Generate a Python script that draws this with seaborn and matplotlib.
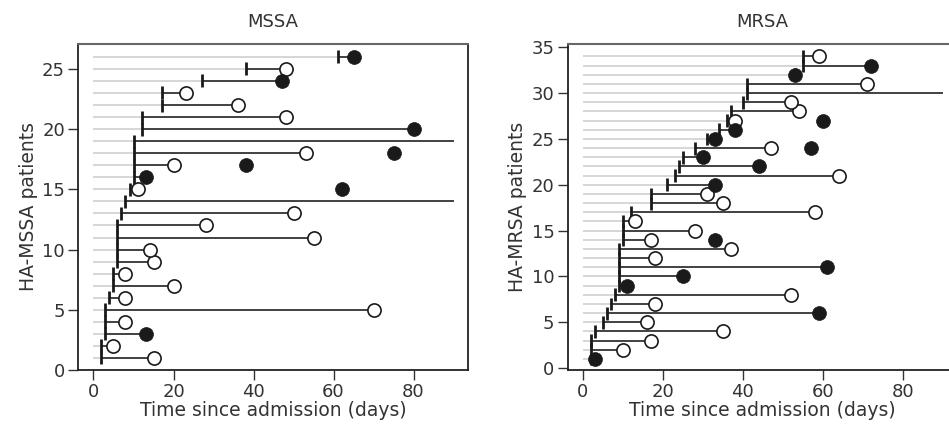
import numpy as np
import pandas as pd
import matplotlib
matplotlib.use("Agg")
import matplotlib.pyplot as plt
import seaborn as sns

sns.set_style("ticks")
plt.rcParams["font.family"] = ["DejaVu Sans"]

# MSSA patients (rows 1..26): sampling day, outcome day, outcome marker
mssa_start = [2, 2, 3, 3, 3, 4, 5, 5, 6, 6, 6, 6, 7, 8, 9, 10, 10, 10, 10, 12, 12, 17, 17, 27, 38, 61]
mssa_end = [15, 5, 13, 8, 70, 8, 20, 8, 15, 14, 55, 28, 50, 90, 11, 13, 20, 53, 90, 80, 48, 36, 23, 47, 48, 65]
mssa_kind = ["open", "open", "filled", "open", "open", "open", "open", "open", "open", "open",
             "open", "open", "open", "none", "open", "filled", "open", "open", "none", "filled",
             "open", "open", "open", "filled", "open", "filled"]
mssa_extra_row = [15, 17, 18]
mssa_extra_day = [62, 38, 75]

# MRSA patients (rows 1..34)
mrsa_start = [2, 2, 2, 3, 5, 6, 7, 8, 9, 9, 9, 9, 9, 10, 10, 10, 12, 17, 17, 21, 23, 24, 25, 28,
              31, 34, 36, 37, 40, 41, 41, 53, 55, 55]
mrsa_end = [3, 10, 17, 35, 16, 59, 18, 52, 11, 25, 61, 18, 37, 17, 28, 13, 58, 35, 31, 33, 64, 44,
            30, 47, 33, 38, 38, 54, 52, 90, 71, 53, 72, 59]
mrsa_kind = ["filled", "open", "open", "open", "open", "filled", "open", "open", "filled", "filled",
             "filled", "open", "open", "open", "open", "open", "open", "open", "open", "filled",
             "open", "filled", "filled", "open", "filled", "filled", "open", "open", "open", "none",
             "open", "filled", "filled", "open"]
mrsa_extra_row = [14, 24, 27]
mrsa_extra_day = [33, 57, 60]

x_ticks = [0, 20, 40, 60, 80]


def draw_panel(ax, start, end, kind, extra_row, extra_day, title, ylabel, ylim, yticks, tick_half):
    """
    Draws one patient timeline panel
    """
    df = pd.DataFrame({"row": np.arange(1, len(start) + 1), "start": start, "end": end, "kind": kind})
    # grey line from admission to sampling
    ax.hlines(df.row, 0, df.start, color="#d6d6d6", lw=1.4, zorder=1)
    # black line from sampling to outcome
    ax.hlines(df.row, df.start, df.end, color="#333333", lw=1.3, zorder=2)
    # vertical tick at sampling day
    ax.vlines(df.start, df.row - tick_half, df.row + tick_half, color="#1a1a1a", lw=2, zorder=3)
    # outcome markers
    sns.scatterplot(data=df[df.kind == "open"], x="end", y="row", ax=ax, s=90,
                    color="white", edgecolor="#1a1a1a", linewidth=1.2, zorder=4)
    filled = pd.concat([df[df.kind == "filled"][["end", "row"]],
                        pd.DataFrame({"end": extra_day, "row": extra_row})])
    sns.scatterplot(data=filled, x="end", y="row", ax=ax, s=100,
                    color="#1a1a1a", edgecolor="#1a1a1a", linewidth=0.5, zorder=4)
    ax.set_xlim(-3.8, 93.6)
    ax.set_ylim(*ylim)
    ax.set_xticks(x_ticks)
    ax.set_yticks(yticks)
    ax.set_title(title, fontsize=13, pad=12, color="#333333")
    ax.set_xlabel("Time since admission (days)", fontsize=13.5, labelpad=0, color="#333333")
    ax.set_ylabel(ylabel, fontsize=13.5, labelpad=3, color="#333333")
    ax.tick_params(labelsize=13, length=7, width=1, pad=2.5, color="#333333", labelcolor="#333333")
    for side in ["left", "bottom", "right"]:
        ax.spines[side].set_color("#222222")
        ax.spines[side].set_linewidth(1.3)
    ax.spines["top"].set_color("#666666")
    ax.spines["top"].set_linewidth(1.5)


fig = plt.figure(figsize=(9.49, 4.34), dpi=100)
ax1 = fig.add_axes([0.0825, 0.1475, 0.4106, 0.752])
ax2 = fig.add_axes([0.5982, 0.1475, 0.4106, 0.752])

draw_panel(ax1, mssa_start, mssa_end, mssa_kind, mssa_extra_row, mssa_extra_day,
           "MSSA", "HA-MSSA patients", (0, 27.1), [0, 5, 10, 15, 20, 25], 0.54)
draw_panel(ax2, mrsa_start, mrsa_end, mrsa_kind, mrsa_extra_row, mrsa_extra_day,
           "MRSA", "HA-MRSA patients", (-0.2, 35.4), [0, 5, 10, 15, 20, 25, 30, 35], 0.7)

fig.savefig("out.png", dpi=100)
